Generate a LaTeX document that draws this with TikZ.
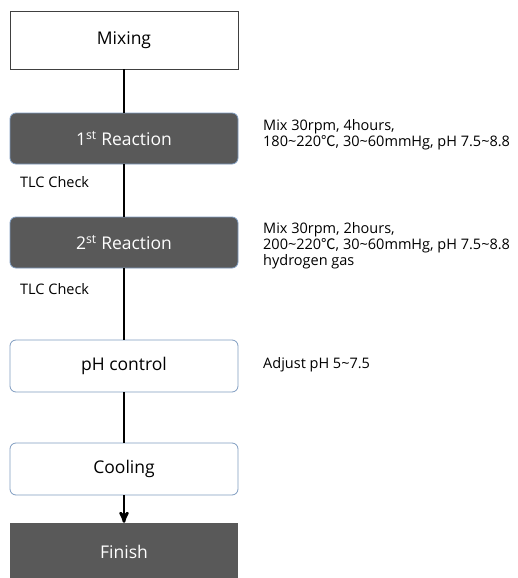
\documentclass[tikz,border=0pt]{standalone}
\usepackage{fontspec}
\setmainfont{Open Sans}
\newfontfamily\cjk{Noto Sans CJK KR}
\usetikzlibrary{calc}
\usetikzlibrary{arrows}
\usepackage{xcolor}
\definecolor{darkbox}{HTML}{595959}
\definecolor{blueline}{HTML}{7F9CC0}
\newcommand{\degC}{{\cjk ℃}}

\begin{document}
\begin{tikzpicture} [x=1pt, y=-1pt,
  plainbox/.style={draw=black!75, fill=white, minimum width=228pt, font=\fontsize{17.5}{19}\selectfont},
  darkstep/.style={draw=blueline, line width=0.8pt, fill=darkbox, rounded corners=6pt, minimum width=228pt, minimum height=51pt, text=white, font=\fontsize{17.5}{19}\selectfont},
  lightstep/.style={draw=blueline, line width=0.8pt, fill=white, rounded corners=6pt, minimum width=228pt, minimum height=52pt, font=\fontsize{17.5}{19}\selectfont},
  note/.style={anchor=west, align=left, inner sep=0, font=\fontsize{14.5}{16}\selectfont},
  flowline/.style={black, line width=2.6pt}]
\useasboundingbox (0,0) rectangle (518,578);
\node[plainbox, minimum height=58pt] (mix) at (124,40) {Mixing};
\node[darkstep] (reac1) at (124,138.5) {1\textsuperscript{st} Reaction};
\node[darkstep] (reac2) at (124,242.5) {2\textsuperscript{st} Reaction};
\node[lightstep] (ph) at (124,366) {pH control};
\node[lightstep] (cool) at (124,469) {Cooling};
\node[plainbox, draw=none, fill=darkbox, text=white, minimum height=58pt] (fin) at (124,552) {Finish};
\draw[flowline] (mix) -- (reac1);
\draw[flowline] (reac1) -- (reac2);
\draw[flowline] (reac2) -- (ph);
\draw[flowline] (ph) -- (cool);
\draw[flowline, ->, >=stealth'] (cool) -- (fin);
\foreach \y in {182, 289} {
 \node[note] (tlc\y) at (20,\y) {TLC Check};
}
\node[note] (cond1) at (263,135) {Mix 30rpm, 4hours,\\180\textasciitilde 220\degC, 30\textasciitilde 60mmHg, pH 7.5\textasciitilde 8.8};
\node[note] (cond2) at (263,246) {Mix 30rpm, 2hours,\\200\textasciitilde 220\degC, 30\textasciitilde 60mmHg, pH 7.5\textasciitilde 8.8\\hydrogen gas};
\node[note] (cond3) at (263,365) {Adjust pH 5\textasciitilde 7.5};
\end{tikzpicture}
\end{document}
